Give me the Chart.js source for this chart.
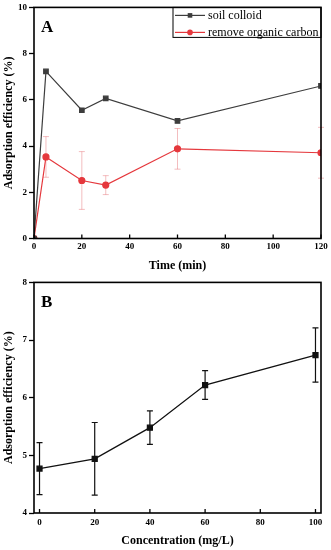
<!DOCTYPE html>
<html>
<head>
<meta charset="utf-8">
<script src="https://cdn.jsdelivr.net/npm/chart.js@4"></script>
<style>
  html, body { margin: 0; padding: 0; background: #fff; }
  #wrap { position: relative; width: 331px; height: 550px; }
  .panel { position: absolute; left: 0; width: 331px; }
</style>
</head>
<body>
<div id="wrap">
  <div class="panel" style="top:0;height:275px"><canvas id="chartA" width="331" height="275"></canvas></div>
  <div class="panel" style="top:275px;height:275px"><canvas id="chartB" width="331" height="275"></canvas></div>
</div>
<script>
// panel A: adsorption vs time
const timeMin = [0, 5, 20, 30, 60, 120];
const soilColloid = [0, 7.23, 5.55, 6.06, 5.09, 6.6];
const removeOC = [0, 3.53, 2.51, 2.31, 3.88, 3.71];
const removeOCErr = [0, 0.88, 1.25, 0.41, 0.88, 1.1];
const timeTicks = [0, 20, 40, 60, 80, 100, 120];
const effTicksA = [0, 2, 4, 6, 8, 10];

// panel B: adsorption vs concentration
const concMgL = [0, 20, 40, 60, 100];
const effB = [4.77, 4.94, 5.48, 6.22, 6.74];
const effBErr = [0.45, 0.63, 0.29, 0.25, 0.47];
const concTicks = [0, 20, 40, 60, 80, 100];
const effTicksB = [4, 5, 6, 7, 8];

const SERIF = "'Liberation Serif', 'Times New Roman', serif";
const tickFont = { family: SERIF, weight: 'bold', size: 9 };
const titleFont = { family: SERIF, weight: 'bold', size: 12 };

const toPoints = (xs, ys) => xs.map((v, i) => ({ x: v, y: ys[i] }));

/* error bars, frame, inward x ticks, panel letter, legend */
const panelDecor = {
  id: 'panelDecor',
  beforeDatasetsDraw(chart) {
    const { ctx, scales: { y } } = chart;
    chart.data.datasets.forEach((ds, i) => {
      if (!ds.errors) return;
      const meta = chart.getDatasetMeta(i);
      ctx.save();
      ctx.strokeStyle = ds.errColor;
      ctx.lineWidth = ds.errWidth;
      meta.data.forEach((pt, j) => {
        const e = ds.errors[j];
        if (!e) return;
        const v = ds.data[j].y;
        const top = y.getPixelForValue(v + e);
        const bot = y.getPixelForValue(v - e);
        ctx.beginPath();
        ctx.moveTo(pt.x, top); ctx.lineTo(pt.x, bot);
        ctx.moveTo(pt.x - 3, top); ctx.lineTo(pt.x + 3, top);
        ctx.moveTo(pt.x - 3, bot); ctx.lineTo(pt.x + 3, bot);
        ctx.stroke();
      });
      ctx.restore();
    });
  },
  afterDraw(chart) {
    const { ctx, chartArea: a, scales: { x } } = chart;
    const o = chart.options.plugins.panelDecor;
    ctx.save();
    ctx.strokeStyle = '#000';
    ctx.lineWidth = 1.6;
    ctx.strokeRect(a.left, a.top, a.right - a.left, a.bottom - a.top);

    ctx.lineWidth = 1.3;
    x.ticks.forEach(t => {
      const px = x.getPixelForValue(t.value);
      ctx.beginPath();
      ctx.moveTo(px, a.bottom);
      ctx.lineTo(px, a.bottom - 4);
      ctx.stroke();
    });

    ctx.fillStyle = '#000';
    ctx.font = 'bold 17px ' + SERIF;
    ctx.textBaseline = 'alphabetic';
    ctx.textAlign = 'left';
    ctx.fillText(o.letter, a.left + 7, a.top + 25);

    if (o.legend) {
      const bx = 173, by = a.top, bh = 30;
      ctx.lineWidth = 1;
      ctx.strokeRect(bx, by, a.right - bx, bh);
      ctx.font = '12px ' + SERIF;
      ctx.textBaseline = 'middle';
      chart.data.datasets.forEach((ds, i) => {
        const ry = by + 8 + i * 17;
        ctx.strokeStyle = ds.borderColor;
        ctx.fillStyle = ds.borderColor;
        ctx.lineWidth = 1.2;
        ctx.beginPath();
        ctx.moveTo(bx + 2, ry); ctx.lineTo(bx + 32, ry);
        ctx.stroke();
        ctx.beginPath();
        if (ds.pointStyle === 'rect') ctx.rect(bx + 17 - 2.3, ry - 2.3, 4.6, 4.6);
        else ctx.arc(bx + 17, ry, 2.8, 0, Math.PI * 2);
        ctx.fill();
        ctx.fillStyle = '#000';
        ctx.fillText(ds.label, bx + 35, ry + 0.5);
      });
    }
    ctx.restore();
  }
};

function axes(xMin, xMax, xTicks, xTitle, xTitlePad, xLabelPad, yMin, yMax, yTicks) {
  return {
    x: {
      type: 'linear', min: xMin, max: xMax,
      afterFit: s => { s.height = 275 - s.chart.options.plotBottom; },
      afterBuildTicks: s => { s.ticks = xTicks.map(v => ({ value: v })); },
      grid: { display: false, drawTicks: false },
      border: { display: false },
      ticks: { padding: xLabelPad, color: '#000', font: tickFont, maxRotation: 0, autoSkip: false },
      title: { display: true, text: xTitle, color: '#000', font: titleFont, padding: { top: 0, bottom: xTitlePad } }
    },
    y: {
      min: yMin, max: yMax,
      afterFit: s => { s.width = 34; },
      afterBuildTicks: s => { s.ticks = yTicks.map(v => ({ value: v })); },
      grid: { display: true, drawOnChartArea: false, tickLength: 5, tickColor: '#000', tickWidth: 1.3 },
      border: { display: false },
      ticks: { padding: 2, color: '#000', font: tickFont },
      title: { display: true, text: 'Adsorption efficiency (%)', color: '#000', font: titleFont, padding: { top: 2, bottom: 0 } }
    }
  };
}

new Chart(document.getElementById('chartA'), {
  type: 'line',
  data: {
    datasets: [{
      label: 'soil colloid',
      data: toPoints(timeMin, soilColloid),
      borderColor: '#3d3d3d',
      backgroundColor: '#3d3d3d',
      borderWidth: 1.2,
      pointStyle: 'rect',
      pointRadius: 3.2,
      tension: 0
    }, {
      label: 'remove organic carbon',
      data: toPoints(timeMin, removeOC),
      errors: removeOCErr,
      errColor: 'rgba(225, 90, 95, 0.4)',
      errWidth: 1,
      borderColor: '#e5383d',
      backgroundColor: '#e5383d',
      borderWidth: 1.2,
      pointStyle: 'circle',
      pointRadius: 3,
      tension: 0
    }]
  },
  options: {
    responsive: false,
    animation: false,
    plotBottom: 238.5,
    layout: { autoPadding: false, padding: { top: 7, right: 10, left: 0, bottom: 0 } },
    plugins: {
      legend: { display: false },
      tooltip: { enabled: false },
      panelDecor: { letter: 'A', legend: true }
    },
    scales: axes(0, 120, timeTicks, 'Time (min)', 2, 3, 0, 10, effTicksA)
  },
  plugins: [panelDecor]
});

new Chart(document.getElementById('chartB'), {
  type: 'line',
  data: {
    datasets: [{
      label: 'adsorption',
      data: toPoints(concMgL, effB),
      errors: effBErr,
      errColor: '#111',
      errWidth: 1.2,
      borderColor: '#111',
      backgroundColor: '#111',
      borderWidth: 1.3,
      pointStyle: 'rect',
      pointRadius: 3.5,
      tension: 0
    }]
  },
  options: {
    responsive: false,
    animation: false,
    plotBottom: 238,
    layout: { autoPadding: false, padding: { top: 7, right: 10, left: 0, bottom: 0 } },
    plugins: {
      legend: { display: false },
      tooltip: { enabled: false },
      panelDecor: { letter: 'B', legend: false }
    },
    scales: axes(-2, 102, concTicks, 'Concentration (mg/L)', 2, 4, 4, 8, effTicksB)
  },
  plugins: [panelDecor]
});
</script>
</body>
</html>
